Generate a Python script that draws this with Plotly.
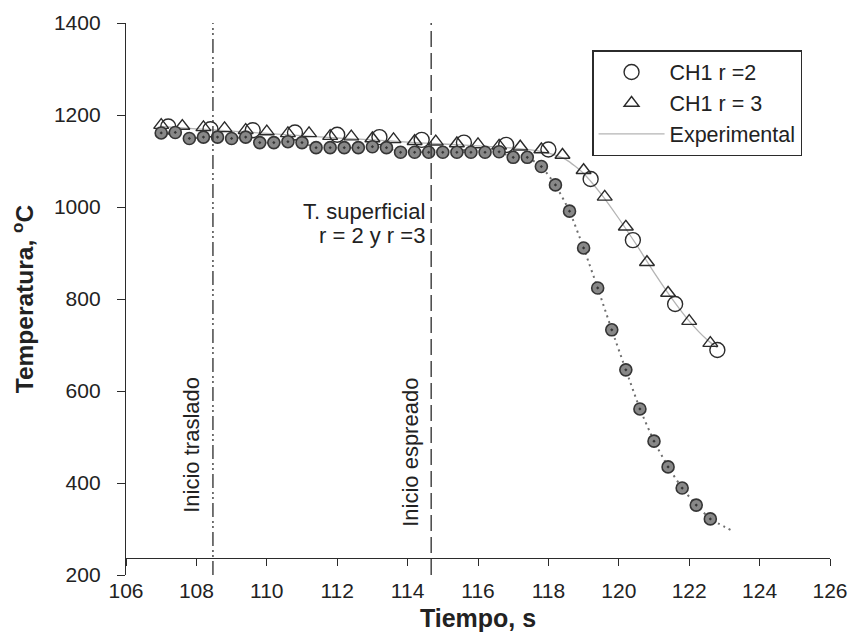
import plotly.graph_objects as go

# CH1 r = 2 (open circles)
t_r2 = [107.2, 108.4, 109.6, 110.8, 112.0, 113.2, 114.4, 115.6, 116.8, 118.0,
        119.2, 120.4, 121.6, 122.8]
T_r2 = [1175, 1169, 1167, 1162, 1157, 1152, 1146, 1140, 1135, 1125,
        1061, 928, 789, 689]

# CH1 r = 3 (open triangles)
t_r3 = [107.0, 107.6, 108.2, 108.8, 109.4, 110.0, 110.6, 111.2, 111.8, 112.4,
        113.0, 113.6, 114.2, 114.8, 115.4, 116.0, 116.6, 117.2, 117.8, 118.4,
        119.0, 119.6, 120.2, 120.8, 121.4, 122.0, 122.6]
T_r3 = [1178, 1176, 1173, 1171, 1167, 1164, 1160, 1160, 1154, 1153,
        1149, 1147, 1143, 1142, 1138, 1136, 1133, 1131, 1125, 1113,
        1080, 1022, 957, 880, 813, 752, 704]

# Experimental curve
t_exp = [107.0, 108.0, 109.0, 110.0, 111.0, 112.0, 113.0, 114.0, 115.0, 116.0,
         117.0, 117.5, 118.0, 118.5, 119.0, 119.5, 120.0, 120.5, 121.0, 121.5,
         122.0, 122.5, 122.8]
T_exp = [1175, 1170, 1165, 1160, 1155, 1150, 1146, 1141, 1137, 1133,
         1128, 1124, 1117, 1103, 1073, 1028, 975, 918, 858, 802,
         752, 712, 694]

# Surface temperature (grey dotted markers)
t_sup = [107.0, 107.4, 107.8, 108.2, 108.6, 109.0, 109.4, 109.8, 110.2, 110.6,
         111.0, 111.4, 111.8, 112.2, 112.6, 113.0, 113.4, 113.8, 114.2, 114.6,
         115.0, 115.4, 115.8, 116.2, 116.6, 117.0, 117.4, 117.8, 118.2, 118.6,
         119.0, 119.4, 119.8, 120.2, 120.6, 121.0, 121.4, 121.8, 122.2, 122.6]
T_sup = [1161, 1162, 1149, 1152, 1152, 1149, 1152, 1140, 1140, 1142,
         1140, 1129, 1129, 1129, 1129, 1131, 1129, 1119, 1119, 1119,
         1119, 1119, 1119, 1119, 1120, 1108, 1108, 1088, 1048, 991,
         911, 824, 733, 646, 561, 491, 435, 389, 352, 322]
# dotted trend continues a little past the last marker
t_sup_tail = [123.2]
T_sup_tail = [297]

# process events
event_t = [108.47, 114.67]
event_labels = ["Inicio traslado", "Inicio espreado"]
event_label_T = [483, 466]
event_dash = ["14px,4px,2px,3px,2px,4px", "16px,6px"]

x_ticks = [106, 108, 110, 112, 114, 116, 118, 120, 122, 124, 126]
y_ticks = [200, 400, 600, 800, 1000, 1200, 1400]
x_range = [106, 126]
y_range = [200, 1400]
x_axis_at = 237  # temperature level where the time axis is drawn

INK = "#2b2b2b"
FONT = "Liberation Sans"

fig = go.Figure()

fig.add_trace(go.Scatter(
    x=t_exp, y=T_exp, mode="lines", name="Experimental",
    line=dict(color="#b4b4b4", width=1.3, shape="spline", smoothing=0.6),
    legendrank=3,
))
fig.add_trace(go.Scatter(
    x=t_sup + t_sup_tail, y=T_sup + T_sup_tail, mode="lines",
    line=dict(color="#6f6f6f", width=2, dash="2px,4px", shape="spline", smoothing=0.4),
    showlegend=False, hoverinfo="skip",
))
fig.add_trace(go.Scatter(
    x=t_r2, y=T_r2, mode="markers", name="CH1 r =2",
    marker=dict(symbol="circle-open", size=15, color=INK, line=dict(width=1.4, color=INK)),
    legendrank=1,
))
fig.add_trace(go.Scatter(
    x=t_r3, y=T_r3, mode="markers", name="CH1 r = 3",
    marker=dict(symbol="triangle-up-open", size=13, color=INK, line=dict(width=1.4, color=INK)),
    legendrank=2,
))
fig.add_trace(go.Scatter(
    x=t_sup, y=T_sup, mode="markers", name="T. superficial",
    marker=dict(symbol="circle-dot", size=12, color="#888888", line=dict(width=1.6, color="#353535")),
    showlegend=False,
))

for t, dash in zip(event_t, event_dash):
    fig.add_shape(type="line", xref="x", yref="y", x0=t, x1=t, y0=y_range[0], y1=y_range[1],
                  line=dict(color="#3a3a3a", width=1.4, dash=dash))

for t, label, yl in zip(event_t, event_labels, event_label_T):
    fig.add_annotation(x=t, y=yl, xref="x", yref="y", text=label, textangle=-90,
                       showarrow=False, xanchor="center", xshift=-21,
                       font=dict(family=FONT, size=22, color="#222"))

fig.add_annotation(x=114.55, y=991, xref="x", yref="y", text="T. superficial",
                   showarrow=False, xanchor="right", font=dict(family=FONT, size=22, color="#222"))
fig.add_annotation(x=114.55, y=937, xref="x", yref="y", text="r = 2 y r =3",
                   showarrow=False, xanchor="right", font=dict(family=FONT, size=22, color="#222"))

axis_common = dict(showgrid=False, zeroline=False, linecolor=INK, linewidth=1.4,
                   tickcolor=INK, tickwidth=1.4, showline=True, automargin=False)

fig.update_layout(
    width=850, height=643,
    margin=dict(l=126, r=20, t=23, b=68),
    paper_bgcolor="white", plot_bgcolor="white",
    font=dict(family=FONT, size=21, color="#222"),
    xaxis=dict(range=x_range, tickvals=x_ticks, ticks="outside", ticklen=7,
               anchor="free", position=(x_axis_at - y_range[0]) / (y_range[1] - y_range[0]),
               ticklabelstandoff=7,
               title=dict(text="<b>Tiempo, s</b>", font=dict(size=25), standoff=8),
               **axis_common),
    xaxis2=dict(range=x_range, tickvals=x_ticks, ticks="inside", ticklen=7,
                overlaying="x", side="top", anchor="y", showticklabels=False,
                **axis_common),
    yaxis=dict(range=y_range, tickvals=y_ticks, ticks="outside", ticklen=8,
               ticklabelstandoff=12,
               title=dict(text="<b>Temperatura, <sup>o</sup>C</b>", font=dict(size=24.5), standoff=13),
               **axis_common),
    yaxis2=dict(range=y_range, tickvals=y_ticks, ticks="inside", ticklen=7,
                overlaying="y", side="right", anchor="x", showticklabels=False,
                **axis_common),
    legend=dict(x=0.662, y=0.951, xanchor="left", yanchor="top",
                bordercolor=INK, borderwidth=1.5, bgcolor="white",
                font=dict(family=FONT, size=21.5, color="#222"),
                itemwidth=66, tracegroupgap=0),
    showlegend=True,
)

fig.write_html("out.html")
